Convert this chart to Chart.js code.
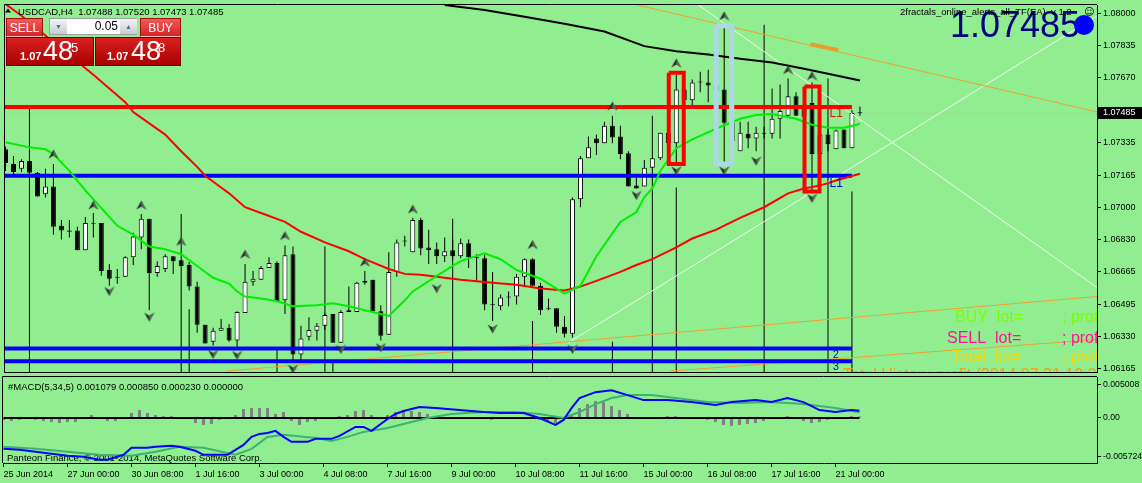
<!DOCTYPE html>
<html>
<head>
<meta charset="utf-8">
<script src="https://cdn.jsdelivr.net/npm/chart.js@4.4.1/dist/chart.umd.min.js"></script>
<style>
html, body { margin: 0; padding: 0; background: #90ee90; }
#wrap { position: relative; width: 1142px; height: 483px; overflow: hidden; background: #90ee90; font-family: "Liberation Sans", Arial, sans-serif; }
#main { position: absolute; left: 0; top: 0; }
#macd { position: absolute; left: 0; top: 376px; }
.tab, .big, .spin { position: absolute; box-sizing: border-box; }
.tab { top: 18px; height: 19px; color: #fff; font-size: 12px; text-align: center; line-height: 19px;
  background: linear-gradient(#f25a5a, #d42626); border: 1px solid #a01010; border-bottom: 1px solid #f4c0c0; }
.big { top: 37px; height: 29px; color: #fff; background: linear-gradient(#da2020, #a80000); border: 1px solid #7a0000; }
.big span { position: absolute; line-height: 1; white-space: nowrap; }
.big .s { font-size: 11px; font-weight: bold; top: 13px; }
.big .b { font-size: 27px; top: 0px; }
.big .p { font-size: 13px; top: 3px; }
.spin { left: 49px; top: 18px; width: 88px; height: 17px; background: #fff; border: 1px solid #9aa0a8; }
.spin .arr { position: absolute; top: 0; width: 17px; height: 15px; background: linear-gradient(#f4f4f4, #c8ccd4);
  color: #5a6a9a; font-size: 7px; text-align: center; line-height: 15px; }
.spin .val { position: absolute; left: 18px; width: 50px; top: 0; height: 15px; line-height: 15px; text-align: right; font-size: 12px; color: #000; }
</style>
</head>
<body>
<div id="wrap">
  <canvas id="main" width="1142" height="377"></canvas>
  <canvas id="macd" width="1142" height="107"></canvas>
  <div class="tab" style="left:6px;width:37px;">SELL</div>
  <div class="spin"><div class="arr" style="left:0">&#9660;</div><div class="val">0.05</div><div class="arr" style="left:70px">&#9650;</div></div>
  <div class="tab" style="left:140px;width:41px;">BUY</div>
  <div class="big" style="left:6px;width:88px;"><span class="s" style="left:13px">1.07</span><span class="b" style="left:36px">48</span><span class="p" style="left:64px">5</span></div>
  <div class="big" style="left:95px;width:86px;"><span class="s" style="left:11px">1.07</span><span class="b" style="left:35px">48</span><span class="p" style="left:62px">8</span></div>
</div>
<script>
Chart.defaults.font.family = '"Liberation Sans", Arial, sans-serif'
Chart.defaults.color = '#000'

// H4 bars, 25 Jun 2014 16:00 .. 21 Jul 2014 12:00
const tickBars = [0, 8, 16, 24, 32, 40, 48, 56, 64, 72, 80, 88, 96, 104]
const tickLabels = ['25 Jun 2014', '27 Jun 00:00', '30 Jun 08:00', '1 Jul 16:00', '3 Jul 00:00', '4 Jul 08:00',
	'7 Jul 16:00', '9 Jul 00:00', '10 Jul 08:00', '11 Jul 16:00', '15 Jul 00:00', '16 Jul 08:00', '17 Jul 16:00', '21 Jul 00:00']

const opens = [1.07299, 1.07223, 1.07198, 1.07238, 1.07177, 1.07066, 1.07106, 1.06903, 1.06878, 1.06878,
	1.06776, 1.06918, 1.06918, 1.06674, 1.06634, 1.06639, 1.06740, 1.06842, 1.06939, 1.06659,
	1.06679, 1.06745, 1.06725, 1.06700, 1.06588, 1.06390, 1.06303, 1.06359, 1.06375, 1.06309,
	1.06451, 1.06613, 1.06624, 1.06684, 1.06710, 1.06517, 1.06756, 1.06237, 1.06329, 1.06359,
	1.06385, 1.06446, 1.06298, 1.06456, 1.06456, 1.06608, 1.06624, 1.06461, 1.06339, 1.06664,
	1.06822, 1.06766, 1.06933, 1.06791, 1.06781, 1.06745, 1.06776, 1.06745, 1.06812, 1.06740,
	1.06735, 1.06496, 1.06486, 1.06532, 1.06537, 1.06639, 1.06730, 1.06593, 1.06471, 1.06476,
	1.06380, 1.06344, 1.07040, 1.07253, 1.07355, 1.07330, 1.07421, 1.07365, 1.07279, 1.07111,
	1.07106, 1.07203, 1.07253, 1.07385, 1.07330, 1.07609, 1.07553, 1.07645, 1.07645, 1.07629,
	1.07609, 1.07436, 1.07289, 1.07380, 1.07355, 1.07385, 1.07380, 1.07457, 1.07472, 1.07573,
	1.07518, 1.07538, 1.07274, 1.07375, 1.07299, 1.07401, 1.07304, 1.07488]
const highs = [1.07314, 1.07264, 1.07248, 1.07248, 1.07182, 1.07198, 1.07223, 1.06933, 1.06933, 1.06898,
	1.06949, 1.06969, 1.06918, 1.06705, 1.06679, 1.06745, 1.06867, 1.06964, 1.06939, 1.06720,
	1.06756, 1.06745, 1.06725, 1.06715, 1.06613, 1.06390, 1.06375, 1.06420, 1.06395, 1.06461,
	1.06705, 1.06669, 1.06695, 1.06740, 1.06720, 1.06801, 1.06796, 1.06385, 1.06430, 1.06400,
	1.06451, 1.06446, 1.06466, 1.06588, 1.06613, 1.06669, 1.06624, 1.06491, 1.06766, 1.06832,
	1.06852, 1.06944, 1.06944, 1.06883, 1.06817, 1.06842, 1.06832, 1.06837, 1.06832, 1.06756,
	1.06756, 1.06664, 1.06547, 1.06563, 1.06654, 1.06735, 1.06735, 1.06608, 1.06527, 1.06476,
	1.06436, 1.07050, 1.07264, 1.07365, 1.07375, 1.07441, 1.07472, 1.07421, 1.07289, 1.07152,
	1.07243, 1.07253, 1.07385, 1.07401, 1.07685, 1.07645, 1.07660, 1.07700, 1.07711, 1.07695,
	1.07949, 1.07467, 1.07441, 1.07441, 1.07416, 1.07416, 1.07614, 1.07634, 1.07665, 1.07594,
	1.07553, 1.07645, 1.07401, 1.07416, 1.07401, 1.07401, 1.07502, 1.07520]
const lows = [1.07187, 1.07172, 1.07182, 1.07172, 1.07055, 1.07050, 1.06857, 1.06832, 1.06842, 1.06776,
	1.06776, 1.06842, 1.06644, 1.06593, 1.06603, 1.06639, 1.06700, 1.06781, 1.06466, 1.06639,
	1.06664, 1.06654, 1.06695, 1.06568, 1.06349, 1.06293, 1.06283, 1.06359, 1.06303, 1.06263,
	1.06451, 1.06593, 1.06624, 1.06684, 1.06512, 1.06446, 1.06197, 1.06207, 1.06309, 1.06309,
	1.06364, 1.06298, 1.06298, 1.06456, 1.06456, 1.06598, 1.06461, 1.06309, 1.06339, 1.06639,
	1.06796, 1.06766, 1.06751, 1.06705, 1.06705, 1.06715, 1.06730, 1.06735, 1.06684, 1.06618,
	1.06466, 1.06410, 1.06466, 1.06486, 1.06496, 1.06588, 1.06593, 1.06441, 1.06466, 1.06349,
	1.06324, 1.06324, 1.06999, 1.07253, 1.07269, 1.07330, 1.07330, 1.07248, 1.07106, 1.07096,
	1.07106, 1.07203, 1.07243, 1.07289, 1.07223, 1.07523, 1.07518, 1.07594, 1.07543, 1.07568,
	1.07228, 1.07238, 1.07289, 1.07304, 1.07289, 1.07355, 1.07355, 1.07355, 1.07472, 1.07472,
	1.07441, 1.07071, 1.07238, 1.07289, 1.07299, 1.07304, 1.07304, 1.07473]
const closes = [1.07228, 1.07182, 1.07238, 1.07177, 1.07055, 1.07106, 1.06898, 1.06878, 1.06872, 1.06776,
	1.06918, 1.06913, 1.06669, 1.06629, 1.06639, 1.06740, 1.06847, 1.06939, 1.06659, 1.06695,
	1.06745, 1.06720, 1.06695, 1.06588, 1.06390, 1.06293, 1.06359, 1.06375, 1.06309, 1.06456,
	1.06613, 1.06629, 1.06684, 1.06710, 1.06512, 1.06751, 1.06237, 1.06319, 1.06364, 1.06385,
	1.06441, 1.06298, 1.06456, 1.06466, 1.06608, 1.06618, 1.06461, 1.06334, 1.06664, 1.06817,
	1.06827, 1.06933, 1.06786, 1.06776, 1.06745, 1.06771, 1.06745, 1.06812, 1.06740, 1.06735,
	1.06496, 1.06491, 1.06532, 1.06537, 1.06639, 1.06730, 1.06593, 1.06466, 1.06476, 1.06380,
	1.06344, 1.07040, 1.07253, 1.07309, 1.07330, 1.07421, 1.07360, 1.07274, 1.07106, 1.07096,
	1.07203, 1.07253, 1.07385, 1.07330, 1.07609, 1.07553, 1.07645, 1.07650, 1.07629, 1.07604,
	1.07436, 1.07340, 1.07385, 1.07355, 1.07385, 1.07380, 1.07457, 1.07497, 1.07573, 1.07472,
	1.07467, 1.07274, 1.07375, 1.07325, 1.07396, 1.07304, 1.07487, 1.07485]

// moving averages, read at a subset of bars
const greenBars = [0, 3, 5, 6, 8, 10, 12, 14, 16, 18, 20, 22, 24, 26, 28, 29, 30, 32, 34, 36, 39, 41, 43, 45, 48, 50, 51, 54, 56, 57,
	60, 62, 64, 67, 69, 70, 72, 74, 77, 79, 80, 81, 82, 84, 86, 89, 92, 94, 96, 99, 101, 103, 105, 107]
const greenVals = [1.07335, 1.07309, 1.07299, 1.07274, 1.07187, 1.07086, 1.06994, 1.06903, 1.06857, 1.06796,
	1.06781, 1.06756, 1.06695, 1.06634, 1.06603, 1.06563, 1.06537, 1.06527, 1.06512, 1.06486,
	1.06491, 1.06502, 1.06486, 1.06466, 1.06436, 1.06517, 1.06563, 1.06644, 1.06695, 1.06720,
	1.06761, 1.06730, 1.06674, 1.06629, 1.06578, 1.06552, 1.06593, 1.06745, 1.06923, 1.06974,
	1.07050, 1.07096, 1.07187, 1.07304, 1.07350, 1.07406, 1.07457, 1.07477, 1.07482, 1.07457,
	1.07426, 1.07411, 1.07411, 1.07431]
const redBars = [0, 2, 5, 8, 11, 15, 16, 20, 22, 24, 25, 27, 28, 30, 32, 35, 37, 40, 43, 45, 48, 50, 52, 54, 57, 61, 64, 67, 70, 72,
	74, 77, 79, 81, 84, 86, 89, 92, 95, 98, 100, 102, 104, 107]
const redVals = [1.08051, 1.07990, 1.07888, 1.07787, 1.07685, 1.07543, 1.07492, 1.07375, 1.07289, 1.07208,
	1.07162, 1.07101, 1.07071, 1.06999, 1.06969, 1.06923, 1.06872, 1.06817, 1.06771, 1.06730,
	1.06679, 1.06654, 1.06649, 1.06639, 1.06624, 1.06608, 1.06598, 1.06578, 1.06568, 1.06588,
	1.06618, 1.06664, 1.06700, 1.06730, 1.06791, 1.06837, 1.06883, 1.06944, 1.06999, 1.07071,
	1.07096, 1.07111, 1.07137, 1.07172]
const blackBars = [55, 60, 65, 70, 75, 80, 84, 88, 92, 96, 100, 103, 107]
const blackVals = [1.08046, 1.08020, 1.07985, 1.07949, 1.07909, 1.07833, 1.07807, 1.07790, 1.07768, 1.07748, 1.07716, 1.07690, 1.07655]

// fractals
const fracUpBars = [6, 11, 17, 22, 30, 35, 45, 51, 66, 76, 84, 90, 98, 101]
const fracUpVals = [1.07274, 1.07010, 1.07010, 1.06822, 1.06756, 1.06852, 1.06715, 1.06989, 1.06806, 1.07523, 1.07746, 1.07990, 1.07711, 1.07680]
const fracDnBars = [13, 18, 26, 29, 36, 42, 47, 54, 61, 71, 79, 84, 90, 94, 101]
const fracDnVals = [1.06563, 1.06430, 1.06237, 1.06232, 1.06161, 1.06263, 1.06272, 1.06578, 1.06369, 1.06263, 1.07060, 1.07187, 1.07187, 1.07238, 1.07045]

// vertical signal lines, from a price down to the bottom
const dropBars = [3, 22, 23, 34, 40, 41, 56, 66, 76, 81, 84, 95, 103, 106]
const dropTops = [1.07518, 1.06964, 1.06471, 1.06263, 1.06796, 1.06197, 1.06939, 1.06410, 1.06303, 1.07472, 1.07101, 1.07944, 1.07665, 1.07081]

// levels and objects
const bid = 1.07485
const redLevel = 1.07518
const blueLevels = [1.07162, 1.06268, 1.06202]
const levelEnd = 106
const orangeTop = [[78.6, 1.08051], [136.7, 1.07492]]
const orangeDash = [[100.8, 1.07843], [104.3, 1.07812]]
const orangeLow1 = [[27.7, 1.06151], [136.7, 1.06537]]
const orangeLow2 = [[83.3, 1.06151], [136.7, 1.06314]]
const whiteA = [[70.5, 1.06298], [136.7, 1.07990]]
const whiteB = [[86.6, 1.08051], [136.7, 1.06583]]
const redBox1 = [83.06, 84.94, 1.07695, 1.07223]
const redBox2 = [100.06, 101.94, 1.07624, 1.07081]
const blueBox = [89.0, 90.94, 1.07939, 1.07223]
const priceTicks = [1.08000, 1.07835, 1.07670, 1.07335, 1.07165, 1.07000, 1.06830, 1.06665, 1.06495, 1.06330, 1.06165]

// MACD(5,34,5)
const macdBars = [0, 2, 4, 6, 8, 10, 12, 13, 15, 16, 18, 19, 21, 22, 24, 25, 28, 30, 31, 32, 33, 34, 35, 36, 38, 39, 41, 42, 44, 45,
	46, 48, 49, 50, 52, 54, 57, 60, 62, 65, 67, 69, 70, 71, 72, 74, 76, 78, 80, 83, 86, 89, 91, 94, 96, 98, 100, 102, 104, 106, 107]
const macdMain = [-0.00457, -0.00471, -0.00501, -0.00530, -0.00560, -0.00574, -0.00619, -0.00619, -0.00545, -0.00442,
	-0.00442, -0.00427, -0.00412, -0.00427, -0.00486, -0.00545, -0.00545, -0.00398, -0.00280, -0.00236,
	-0.00221, -0.00191, -0.00280, -0.00353, -0.00353, -0.00309, -0.00309, -0.00265, -0.00133, -0.00133,
	-0.00191, -0.00015, 0.00059, 0.00103, 0.00162, 0.00147, 0.00118, 0.00088, 0.00074, 0.00074,
	0.00000, -0.00103, -0.00029, 0.00147, 0.00295, 0.00383, 0.00412, 0.00339, 0.00265, 0.00265,
	0.00236, 0.00191, 0.00236, 0.00265, 0.00236, 0.00295, 0.00236, 0.00118, 0.00088, 0.00118, 0.001079]
const sigBars = [0, 4, 8, 12, 16, 19, 22, 25, 29, 31, 33, 35, 39, 41, 43, 45, 48, 50, 53, 56, 60, 64, 67, 70, 72, 74, 76, 78, 81, 84,
	88, 92, 96, 100, 104, 107]
const sigVals = [-0.00427, -0.00457, -0.00501, -0.00545, -0.00560, -0.00501, -0.00427, -0.00442, -0.00545, -0.00457,
	-0.00280, -0.00250, -0.00295, -0.00339, -0.00280, -0.00206, -0.00147, -0.00088, 0.00000, 0.00059,
	0.00088, 0.00088, 0.00059, 0.00000, 0.00088, 0.00206, 0.00295, 0.00339, 0.00339, 0.00295,
	0.00236, 0.00221, 0.00236, 0.00206, 0.00147, 0.00085]
const macdHist = [-0.00029, -0.00044, -0.00029, -0.00005, -0.00029, -0.00044, -0.00059, -0.00074, -0.00059, -0.00059,
	-0.00005, 0.00044, 0.00005, -0.00044, -0.00044, 0.00005, 0.00074, 0.00118, 0.00074, 0.00044,
	0.00029, 0.00029, 0.00015, -0.00005, -0.00074, -0.00103, -0.00088, -0.00029, -0.00015, 0.00044,
	0.00133, 0.00147, 0.00147, 0.00147, 0.00059, 0.00088, -0.00044, -0.00103, -0.00059, -0.00044,
	0.00005, -0.00005, 0.00029, 0.00044, 0.00103, 0.00118, 0.00044, 0.00005, 0.00044, 0.00088,
	0.00118, 0.00103, 0.00088, 0.00059, 0.00029, 0.00015, 0.00015, 0.00005, -0.00005, -0.00015,
	-0.00015, -0.00029, -0.00015, -0.00005, 0.00005, 0.00015, -0.00005, -0.00029, -0.00044, -0.00074,
	-0.00044, 0.00059, 0.00147, 0.00206, 0.00250, 0.00235, 0.00176, 0.00118, 0.00059, 0.00015,
	-0.00015, -0.00005, 0.00015, 0.00029, 0.00029, 0.00015, 0.00005, -0.00015, -0.00029, -0.00059,
	-0.00103, -0.00118, -0.00103, -0.00088, -0.00074, -0.00044, -0.00015, 0.00015, 0.00029, 0.00005,
	-0.00044, -0.00074, -0.00059, -0.00029, -0.00015, 0.00015, 0.00029, 0.00023]
const macdTicks = [0.005008, 0, -0.005724]
const macdTickText = ['0.005008', '0.00', '-0.005724']

const xMin = -0.0625
const xMax = 136.6875

function xy(xs, ys) {
	return xs.map((x, i) => ({ x: x, y: ys[i] }))
}
function seg(pts) {
	return pts.map(p => ({ x: p[0], y: p[1] }))
}
function box(b) {
	return [{ x: b[0], y: b[2] }, { x: b[1], y: b[2] }, { x: b[1], y: b[3] }, { x: b[0], y: b[3] }, { x: b[0], y: b[2] }]
}
function line(data, color, width, order) {
	return { type: 'line', data: data, borderColor: color, borderWidth: width, pointRadius: 0, tension: 0, order: order, borderJoinStyle: 'miter' }
}
// no extra room for the edge labels, the frame sits on the canvas edge
function noPad(s) {
	s.paddingTop = 0
	s.paddingBottom = 0
	s.paddingLeft = 0
	s.paddingRight = 0
}

function arrowImg(up) {
	var c = document.createElement('canvas')
	c.width = 11
	c.height = 10
	var g = c.getContext('2d')
	if (!up) {
		g.translate(0, 10)
		g.scale(1, -1)
	}
	g.beginPath()
	g.moveTo(5.5, 0.5); g.lineTo(10.5, 9.5); g.lineTo(5.5, 6.5); g.lineTo(0.5, 9.5); g.closePath()
	g.fillStyle = '#2b2b2b'
	g.fill()
	g.beginPath()
	g.moveTo(5.5, 0.5); g.lineTo(10.5, 9.5); g.lineTo(5.5, 6.5); g.closePath()
	g.fillStyle = '#5a6a5a'
	g.fill()
	return c
}

const datasets = []
datasets.push({ type: 'line', data: xy(fracUpBars, fracUpVals), showLine: false, pointStyle: arrowImg(true), order: 1 })
datasets.push({ type: 'line', data: xy(fracDnBars, fracDnVals), showLine: false, pointStyle: arrowImg(false), order: 1 })
datasets.push(line(box(redBox1), '#ff0000', 4, 2))
datasets.push(line(box(redBox2), '#ff0000', 4, 2))
datasets.push(line(box(blueBox), '#add8e6', 5, 2))
datasets.push(line(xy(greenBars, greenVals), '#00ee00', 2, 3))
datasets.push(line(xy(redBars, redVals), '#ff0000', 2, 3))
datasets.push(line(xy(blackBars, blackVals), '#000000', 2, 3))
datasets.push(line([{ x: xMin, y: redLevel }, { x: levelEnd, y: redLevel }], '#ff0000', 4, 4))
blueLevels.forEach(v => datasets.push(line([{ x: xMin, y: v }, { x: levelEnd, y: v }], '#0000ff', 4, 4)))
datasets.push(line(seg(orangeTop), '#f0a030', 1, 5))
datasets.push(line(seg(orangeDash), '#e0a030', 4, 5))
datasets.push(line(seg(orangeLow1), '#f0a030', 1, 5))
datasets.push(line(seg(orangeLow2), '#f0a030', 1, 5))
datasets.push(line(seg(whiteA), '#f4f4f4', 1, 5))
datasets.push(line(seg(whiteB), '#f4f4f4', 1, 5))
datasets.push({
	data: opens.map((o, i) => ({ x: i, y: [o, closes[i]] })),
	backgroundColor: c => closes[c.dataIndex] >= opens[c.dataIndex] ? '#ffffff' : '#000000',
	borderColor: '#000', borderWidth: 1, borderSkipped: false, barThickness: 5, minBarLength: 1,
	grouped: false, inflateAmount: 0, order: 6
})
datasets.push({
	data: highs.map((h, i) => ({ x: i, y: [lows[i], h] })),
	backgroundColor: '#000', borderWidth: 0, barThickness: 1, grouped: false, inflateAmount: 0, order: 7
})
datasets.push({
	data: dropBars.map((b, i) => ({ x: b, y: [1.0600, dropTops[i]] })),
	backgroundColor: '#000', borderWidth: 0, barThickness: 1, grouped: false, inflateAmount: 0, order: 8
})
datasets.push(line([{ x: xMin, y: bid }, { x: xMax, y: bid }], '#c0c0c0', 1, 9))

function clipArea(ctx, a) {
	ctx.beginPath()
	ctx.rect(a.left, a.top, a.right - a.left, a.bottom - a.top)
	ctx.clip()
}

const mainOverlay = {
	id: 'mainOverlay',
	afterDraw(chart) {
		var ctx = chart.ctx
		var a = chart.chartArea
		var sx = chart.scales.x
		var sy = chart.scales.y
		ctx.save()
		ctx.strokeStyle = '#000'
		ctx.lineWidth = 1
		ctx.beginPath()
		ctx.moveTo(a.left - 0.5, a.bottom + 0.5)
		ctx.lineTo(a.left - 0.5, a.top - 0.5)
		ctx.lineTo(a.right, a.top - 0.5)
		ctx.moveTo(a.left - 0.5, a.bottom + 0.5)
		ctx.lineTo(a.right, a.bottom + 0.5)
		ctx.stroke()

		ctx.save()
		clipArea(ctx, a)
		ctx.textBaseline = 'middle'
		ctx.font = '12px "Liberation Sans"'
		ctx.fillStyle = '#ff0000'
		ctx.fillText('L1', sx.getPixelForValue(103.2), sy.getPixelForValue(1.07485))
		ctx.fillStyle = '#0000ff'
		ctx.fillText('L1', sx.getPixelForValue(103.2), sy.getPixelForValue(1.07119))
		ctx.font = '11px "Liberation Sans"'
		ctx.fillText('2', sx.getPixelForValue(103.6), sy.getPixelForValue(1.06232))
		ctx.fillText('3', sx.getPixelForValue(103.6), sy.getPixelForValue(1.06172))

		ctx.textBaseline = 'alphabetic'
		ctx.font = '16px "Liberation Sans"'
		ctx.fillStyle = '#7cfc00'
		ctx.fillText('BUY  lot=', 955, 322)
		ctx.fillText('; profit=', 1062, 322)
		ctx.fillStyle = '#ff1493'
		ctx.fillText('SELL  lot=', 947, 343)
		ctx.fillText('; profit=', 1062, 343)
		ctx.fillStyle = '#ffd700'
		ctx.fillText('Total  lot=', 952, 362)
		ctx.fillText('; profit=', 1062, 362)
		ctx.fillStyle = '#f0a010'
		ctx.fillText('Total History profit (2014.07.21 12:30)', 843, 380)

		ctx.font = '36px "Liberation Sans"'
		ctx.fillStyle = '#000080'
		ctx.fillText('1.07485', 950, 37)
		ctx.fillStyle = '#0000ff'
		ctx.beginPath()
		ctx.arc(1084, 25, 10, 0, Math.PI * 2)
		ctx.fill()
		ctx.font = '9.5px "Liberation Sans"'
		ctx.fillStyle = '#000'
		ctx.fillText('2fractals_online_alerts_all_TF(EA)  v 1.2', 900, 15)
		ctx.font = '10px "DejaVu Sans"'
		ctx.fillText('\u263A', 1084, 15)

		ctx.beginPath()
		ctx.moveTo(5, 12.5); ctx.lineTo(11, 12.5); ctx.lineTo(8, 8.5); ctx.closePath()
		ctx.fill()
		ctx.font = '9.5px "Liberation Sans"'
		ctx.fillText('USDCAD,H4  1.07488 1.07520 1.07473 1.07485', 18, 14.5)
		ctx.restore()

		var py = Math.round(sy.getPixelForValue(bid))
		ctx.fillStyle = '#000'
		ctx.fillRect(1098, py - 6, 44, 12)
		ctx.fillStyle = '#fff'
		ctx.font = '9px "Liberation Sans"'
		ctx.textBaseline = 'middle'
		ctx.fillText('1.07485', 1103, py)
		ctx.restore()
	}
}

new Chart(document.getElementById('main'), {
	type: 'bar',
	data: { datasets: datasets },
	options: {
		responsive: false,
		animation: false,
		events: [],
		layout: { padding: { left: 3, top: 1, right: 0, bottom: 2 } },
		plugins: { legend: { display: false }, tooltip: { enabled: false } },
		scales: {
			x: { type: 'linear', min: xMin, max: xMax, display: false, offset: false },
			y: {
				position: 'right', min: 1.06146, max: 1.08046,
				afterFit: s => { s.width = 45; noPad(s) },
				afterBuildTicks: s => { s.ticks = priceTicks.map(v => ({ value: v })) },
				ticks: { callback: v => v.toFixed(5), font: { size: 9 }, color: '#000', padding: 2, autoSkip: false },
				grid: { drawOnChartArea: false, tickLength: 4, tickColor: '#000' },
				border: { color: '#000' }
			}
		}
	},
	plugins: [mainOverlay]
})

const macdOverlay = {
	id: 'macdOverlay',
	beforeDatasetsDraw(chart) {
		var ctx = chart.ctx
		ctx.save()
		ctx.font = '9.5px "Liberation Sans"'
		ctx.fillStyle = '#000'
		ctx.fillText('#MACD(5,34,5) 0.001079 0.000850 0.000230 0.000000', 8, 14)
		ctx.fillText('Panteon Finance, \u00A9 2001-2014, MetaQuotes Software Corp.', 7, 85)
		ctx.restore()
	},
	afterDraw(chart) {
		var ctx = chart.ctx
		var a = chart.chartArea
		ctx.save()
		ctx.strokeStyle = '#000'
		ctx.lineWidth = 1
		ctx.beginPath()
		ctx.moveTo(a.left - 0.5, a.bottom)
		ctx.lineTo(a.left - 0.5, a.top - 0.5)
		ctx.lineTo(a.right, a.top - 0.5)
		ctx.stroke()
		ctx.restore()
	}
}

new Chart(document.getElementById('macd'), {
	type: 'bar',
	data: {
		datasets: [
			line(xy(macdBars, macdMain), '#0000ff', 2, 1),
			line(xy(sigBars, sigVals), '#3cb371', 2, 2),
			line([{ x: 0, y: 0 }, { x: 107, y: 0 }], '#000000', 2, 3),
			{ data: macdHist.map((v, i) => ({ x: i, y: v })), backgroundColor: '#808080', borderWidth: 0, barThickness: 3, grouped: false, inflateAmount: 0, order: 4 }
		]
	},
	options: {
		responsive: false,
		animation: false,
		events: [],
		layout: { padding: { left: 3, top: 1, right: 0, bottom: 0 } },
		plugins: { legend: { display: false }, tooltip: { enabled: false } },
		scales: {
			x: {
				type: 'linear', min: xMin, max: xMax, offset: false,
				afterFit: s => { s.height = 20; noPad(s) },
				afterBuildTicks: s => { s.ticks = tickBars.map(v => ({ value: v })) },
				ticks: { callback: v => tickLabels[tickBars.indexOf(v)], align: 'start', maxRotation: 0, autoSkip: false, font: { size: 9 }, color: '#000', padding: 2 },
				grid: { drawOnChartArea: false, tickLength: 4, tickColor: '#000', offset: false },
				border: { color: '#000' }
			},
			y: {
				position: 'right', min: -0.006667, max: 0.006074,
				afterFit: s => { s.width = 45; noPad(s) },
				afterBuildTicks: s => { s.ticks = macdTicks.map(v => ({ value: v })) },
				ticks: { callback: v => macdTickText[macdTicks.indexOf(v)], font: { size: 8.7 }, color: '#000', padding: 2, autoSkip: false },
				grid: { drawOnChartArea: false, tickLength: 4, tickColor: '#000' },
				border: { color: '#000' }
			}
		}
	},
	plugins: [macdOverlay]
})
</script>
</body>
</html>
